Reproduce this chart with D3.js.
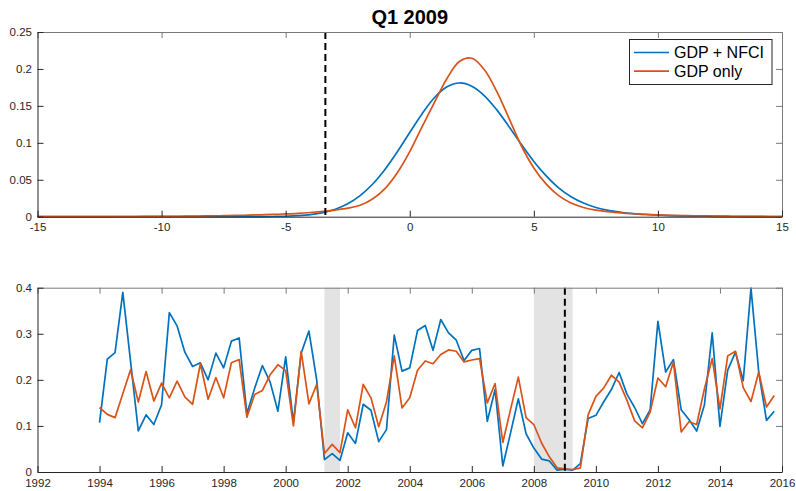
<!DOCTYPE html>
<html><head><meta charset="utf-8">
<script src="https://cdn.jsdelivr.net/npm/d3@7/dist/d3.min.js"></script>
<style>
body{margin:0;background:#fff;}
svg{display:block;font-family:"Liberation Sans",Arial,Helvetica,sans-serif;}
.tick text{fill:#262626;font-size:11.5px;}
</style></head><body>
<svg id="c" width="796" height="491"></svg>
<script>
// ---------- DATA ----------
const title = "Q1 2009";
const seriesNames = ["GDP + NFCI", "GDP only"];
// density grid (GDP growth, %)
const densityX = d3.range(-15, 15.001, 0.5);
const densityNFCI = [
 0,0,0,0,0,0,0,0,0,0,          // -15 .. -10.5
 0,0,0,0,0,0,0.0001,0.0001,     // -10 .. -6.5
 0.0001,0.0003,0.0006,0.0014,0.0028,0.0055,0.0101,0.0174,0.0285,0.0439,0.064,0.0879,0.114,0.1395,0.1613,0.1758,0.181, // -6 .. 2
 0.1766,0.164,0.1449,0.1219,0.0976,0.0748,0.0552,0.039,0.027,0.0185,0.0125,0.0085,0.006,0.0042,0.003,0.0021,0.0015,0.0011,0.0008,0.0006,0.0004,0.0003,0.0002,0.0002,0.0001,0.0001 // 2.5 .. 15
];
const densityGDP = [
 0.0001,0.0001,0.0001,0.0001,0.0002,0.0002,0.0002,0.0003,0.0003,0.0004, // -15 .. -10.5
 0.0005,0.0006,0.0007,0.0009,0.0011,0.0014,0.0017,0.0021,               // -10 .. -6.5
 0.0026,0.0031,0.0037,0.0045,0.0057,0.0072,0.009,0.0115,0.0155,0.024,0.038,0.0595,0.088,0.122,0.155,0.187,0.210, // -6 .. 2
 0.2145,0.1993,0.170,0.1331,0.0957,0.066,0.044,0.0285,0.0185,0.0125,0.0088,0.0068,0.0052,0.004,0.0031,0.0024,0.0019,0.0015,0.0012,0.001,0.0008,0.0006,0.0005,0.0004,0.0003,0.0002 // 2.5 .. 15
];
const realizedGrowth = -3.4;
const topXTicks = [-15,-10,-5,0,5,10,15];
const topYTicks = [0,0.05,0.1,0.15,0.2,0.25];

// quarterly probability series, 1994Q1 .. 2015Q4
const startYear = 1994;
const probNFCI = [
 0.107,0.245,0.259,0.390,0.240,0.089,0.124,0.103,0.146,0.346,0.317,0.260,0.229,0.237,0.200,0.258,
 0.226,0.284,0.291,0.127,0.182,0.231,0.195,0.132,0.250,0.108,0.258,0.306,0.200,0.027,0.040,0.025,
 0.085,0.062,0.147,0.134,0.066,0.092,0.297,0.219,0.226,0.307,0.318,0.264,0.331,0.302,0.286,0.242,
 0.264,0.268,0.110,0.179,0.013,0.085,0.159,0.083,0.052,0.028,0.024,0.004,0.006,0.004,0.018,0.116,
 0.123,0.152,0.179,0.216,0.169,0.140,0.105,0.135,0.327,0.217,0.244,0.135,0.114,0.089,0.146,0.302,
 0.099,0.221,0.260,0.198,0.399,0.217,0.112,0.132
];
const probGDP = [
 0.140,0.125,0.118,0.170,0.222,0.152,0.218,0.154,0.193,0.161,0.197,0.163,0.147,0.235,0.158,0.205,
 0.161,0.237,0.244,0.119,0.168,0.177,0.211,0.233,0.220,0.100,0.262,0.148,0.190,0.040,0.060,0.042,
 0.135,0.096,0.190,0.161,0.098,0.152,0.252,0.139,0.161,0.221,0.241,0.235,0.255,0.265,0.262,0.239,
 0.243,0.246,0.150,0.192,0.064,0.136,0.206,0.118,0.103,0.063,0.033,0.009,0.007,0.005,0.009,0.124,
 0.164,0.182,0.210,0.195,0.156,0.111,0.096,0.130,0.204,0.185,0.239,0.087,0.109,0.103,0.181,0.246,
 0.137,0.252,0.262,0.183,0.153,0.217,0.141,0.166
];
const recessions = [[2001.25, 2001.75], [2008.0, 2009.25]];
const currentQuarter = 2009.0;
const botXTicks = [1992,1994,1996,1998,2000,2002,2004,2006,2008,2010,2012,2014,2016];
const botYTicks = [0,0.1,0.2,0.3,0.4];

// ---------- DRAW ----------
const colors = ["#0072BD", "#D95319"];
const svg = d3.select("#c");
const L = 37.5, R = 782;
const T1 = 32, B1 = 216.7, T2 = 287.7, B2 = 472;
const tickLen = 6;

function frame(x, y, top, bottom, xt, yt, xfmt, yfmt, xpad) {
  const g = svg.append("g");
  g.append("g").attr("transform", `translate(0,${top})`)
    .call(d3.axisTop(x).tickValues(xt).tickSize(-tickLen).tickSizeOuter(0).tickFormat(""))
    .call(s => s.selectAll("path,line").attr("stroke", "#7a7a7a"));
  g.append("g").attr("transform", `translate(${R},0)`)
    .call(d3.axisRight(y).tickValues(yt).tickSize(-tickLen).tickSizeOuter(0).tickFormat(""))
    .call(s => s.selectAll("path,line").attr("stroke", "#7a7a7a"));
  g.append("g").attr("transform", `translate(0,${bottom})`)
    .call(d3.axisBottom(x).tickValues(xt).tickSize(-tickLen).tickSizeOuter(0).tickPadding(xpad).tickFormat(xfmt))
    .call(s => s.selectAll("path,line").attr("stroke", "#262626"));
  g.append("g").attr("transform", `translate(${L},0)`)
    .call(d3.axisLeft(y).tickValues(yt).tickSize(-tickLen).tickSizeOuter(0).tickPadding(5.5).tickFormat(yfmt))
    .call(s => s.selectAll("path,line").attr("stroke", "#262626"));
  g.selectAll("g").attr("font-family", null).attr("font-size", null);
}

// ---- top panel ----
const x1 = d3.scaleLinear().domain([-15, 15]).range([L, R]);
const y1 = d3.scaleLinear().domain([0, 0.25]).range([B1, T1]);
const dens = [densityNFCI, densityGDP];
const line1 = d3.line().x(d => x1(d[0])).y(d => y1(d[1])).curve(d3.curveCatmullRom.alpha(0.5));
dens.forEach((arr, k) => {
  svg.append("path").datum(densityX.map((v, i) => [v, arr[i]]))
    .attr("d", line1).attr("fill", "none").attr("stroke", colors[k]).attr("stroke-width", 1.7);
});
svg.append("line").attr("x1", x1(realizedGrowth)).attr("x2", x1(realizedGrowth))
  .attr("y1", y1(0.25)).attr("y2", y1(0))
  .attr("stroke", "#000").attr("stroke-width", 2).attr("stroke-dasharray", "7,4");
frame(x1, y1, T1, B1, topXTicks, topYTicks, d => String(d), d => String(d), 6.5);

svg.append("text").attr("x", (L + R) / 2).attr("y", 24).attr("text-anchor", "middle")
  .attr("font-weight", "bold").attr("font-size", 20).attr("fill", "#000").text(title);

// legend
const lg = svg.append("g");
lg.append("rect").attr("x", 629.5).attr("y", 39.5).attr("width", 142.5).attr("height", 45)
  .attr("fill", "#fff").attr("stroke", "#262626").attr("stroke-width", 1);
seriesNames.forEach((n, k) => {
  const yy = 52.5 + k * 18.7;
  lg.append("line").attr("x1", 634).attr("x2", 669).attr("y1", yy).attr("y2", yy)
    .attr("stroke", colors[k]).attr("stroke-width", 1.7);
  lg.append("text").attr("x", 674).attr("y", yy + 5.8).attr("font-size", 16).attr("fill", "#000").text(n);
});

// ---- bottom panel ----
const x2 = d3.scaleLinear().domain([1992, 2016]).range([L, R]);
const y2 = d3.scaleLinear().domain([0, 0.4]).range([B2, T2]);
recessions.forEach(r => {
  svg.append("rect").attr("x", x2(r[0])).attr("width", x2(r[1]) - x2(r[0]))
    .attr("y", y2(0.4)).attr("height", y2(0) - y2(0.4)).attr("fill", "#e3e3e3");
});
const line2 = d3.line().x((d, i) => x2(startYear + i / 4)).y(d => y2(d));
[probNFCI, probGDP].forEach((arr, k) => {
  svg.append("path").datum(arr).attr("d", line2).attr("fill", "none")
    .attr("stroke", colors[k]).attr("stroke-width", 1.7).attr("stroke-linejoin", "round");
});
svg.append("line").attr("x1", x2(currentQuarter)).attr("x2", x2(currentQuarter))
  .attr("y1", y2(0.4)).attr("y2", y2(0))
  .attr("stroke", "#000").attr("stroke-width", 2).attr("stroke-dasharray", "7,4");
frame(x2, y2, T2, B2, botXTicks, botYTicks, d => String(d), d => String(d), 7);
</script>
</body></html>
